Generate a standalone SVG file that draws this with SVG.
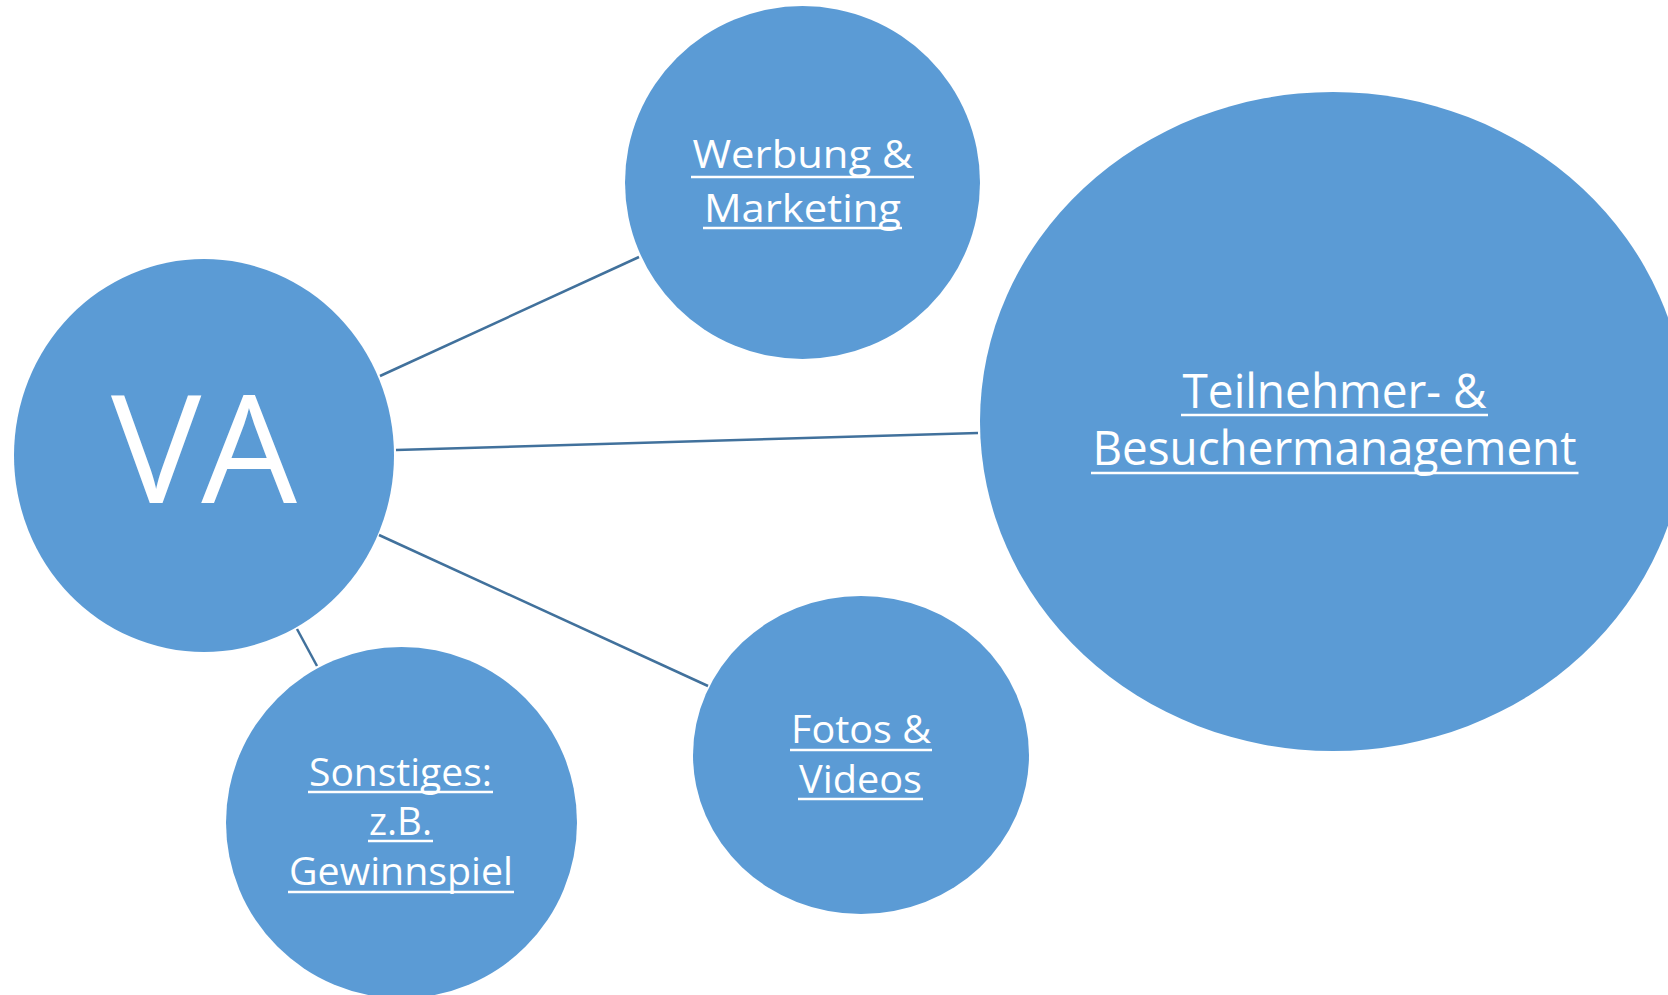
<svg xmlns="http://www.w3.org/2000/svg" width="1668" height="995" viewBox="0 0 1668 995">
<style>
.node{fill:#5B9BD5}
.lbl{fill:#FFFFFF;font-family:"Open Sans","Noto Sans","Liberation Sans",sans-serif;text-anchor:middle}
.ul{stroke:#FFFFFF;stroke-width:2.5}
.conn{stroke:#41719C;stroke-width:2.5;fill:none}
</style>
<rect width="1668" height="995" fill="#FFFFFF"/>
<g id="connectors">
<line class="conn" x1="380" y1="376" x2="639" y2="257"/>
<line class="conn" x1="396" y1="450" x2="978" y2="433"/>
<line class="conn" x1="379" y1="535" x2="708" y2="686"/>
<line class="conn" x1="297" y1="629" x2="317" y2="666"/>
</g>
<g id="node-va">
<ellipse class="node" cx="204" cy="455.5" rx="190" ry="196.5"/>
<text class="lbl" x="204" y="503" font-size="150" textLength="186" lengthAdjust="spacingAndGlyphs">VA</text>
</g>
<g id="node-werbung">
<ellipse class="node" cx="802.5" cy="182.5" rx="177.5" ry="176.5"/>
<text class="lbl" font-size="39"><tspan x="802.5" y="168" textLength="220" lengthAdjust="spacingAndGlyphs">Werbung &amp;</tspan></text>
<text class="lbl" font-size="39"><tspan x="802.5" y="221.5" textLength="197" lengthAdjust="spacingAndGlyphs">Marketing</tspan></text>
<line class="ul" x1="691" y1="177" x2="914" y2="177"/>
<line class="ul" x1="703" y1="228" x2="902" y2="228"/>
</g>
<g id="node-teilnehmer">
<ellipse class="node" cx="1333" cy="421.5" rx="353" ry="329.5"/>
<text class="lbl" font-size="47"><tspan x="1334.5" y="408" textLength="304" lengthAdjust="spacingAndGlyphs">Teilnehmer- &amp;</tspan></text>
<text class="lbl" font-size="47"><tspan x="1334.5" y="465" textLength="484" lengthAdjust="spacingAndGlyphs">Besuchermanagement</tspan></text>
<line class="ul" x1="1181" y1="415" x2="1488" y2="415"/>
<line class="ul" x1="1091" y1="473" x2="1578.5" y2="473"/>
</g>
<g id="node-fotos">
<ellipse class="node" cx="861" cy="755" rx="168" ry="159"/>
<text class="lbl" font-size="39"><tspan x="861" y="743" textLength="140" lengthAdjust="spacingAndGlyphs">Fotos &amp;</tspan></text>
<text class="lbl" font-size="39"><tspan x="860.5" y="793" textLength="123" lengthAdjust="spacingAndGlyphs">Videos</tspan></text>
<line class="ul" x1="790" y1="750" x2="932" y2="750"/>
<line class="ul" x1="798" y1="799" x2="923" y2="799"/>
</g>
<g id="node-sonstiges">
<ellipse class="node" cx="401.5" cy="822.5" rx="175.5" ry="175.5"/>
<text class="lbl" font-size="39"><tspan x="400.5" y="786" textLength="183" lengthAdjust="spacingAndGlyphs">Sonstiges:</tspan></text>
<text class="lbl" font-size="39"><tspan x="400.5" y="835" textLength="63" lengthAdjust="spacingAndGlyphs">z.B.</tspan></text>
<text class="lbl" font-size="39"><tspan x="401" y="885" textLength="224" lengthAdjust="spacingAndGlyphs">Gewinnspiel</tspan></text>
<line class="ul" x1="308" y1="792" x2="493" y2="792"/>
<line class="ul" x1="368" y1="841" x2="433" y2="841"/>
<line class="ul" x1="288" y1="892" x2="514" y2="892"/>
</g>
</svg>
